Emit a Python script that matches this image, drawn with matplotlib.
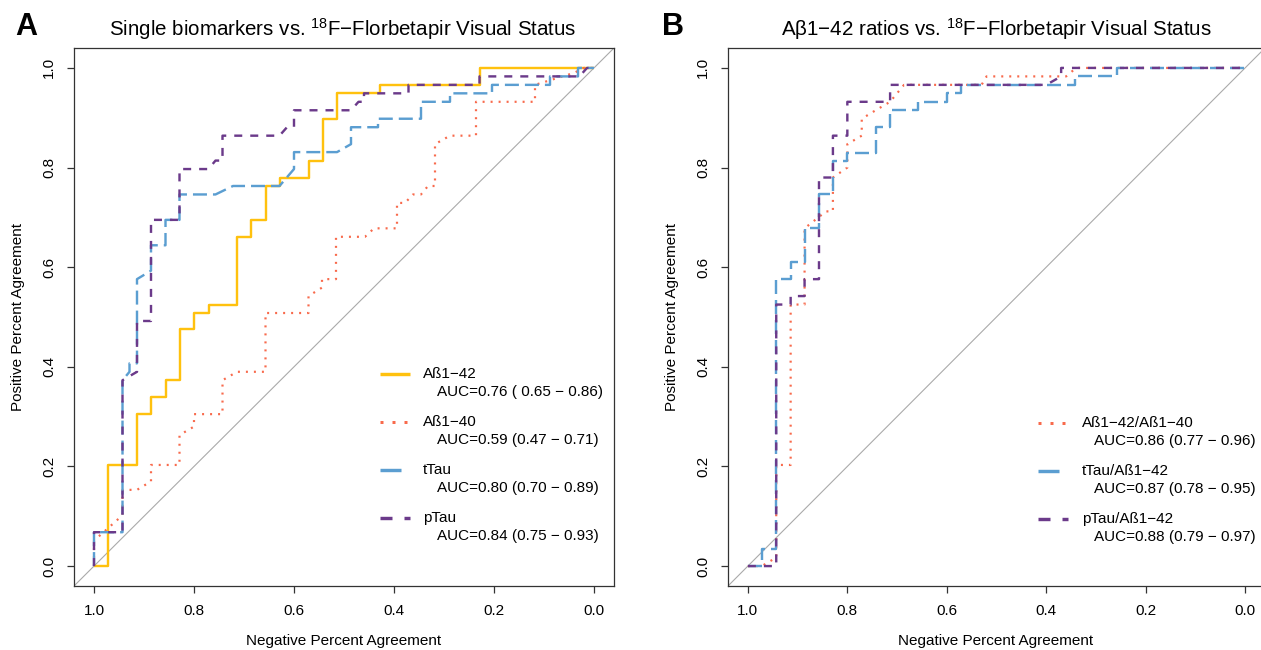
import matplotlib
matplotlib.use("Agg")
import matplotlib.pyplot as plt

plt.rcParams['font.family'] = ['Liberation Sans', 'DejaVu Sans']
plt.rcParams['mathtext.fontset'] = 'custom'
plt.rcParams['mathtext.rm'] = 'Liberation Sans'
plt.rcParams['mathtext.default'] = 'regular'
plt.rcParams['lines.scale_dashes'] = False

# ROC points as (specificity, sensitivity)
ab42_roc = [(1, 0), (0.972, 0), (0.972, 0.203), (0.914, 0.203), (0.914, 0.305), (0.886, 0.305),
            (0.886, 0.339), (0.857, 0.339), (0.857, 0.373), (0.829, 0.373), (0.829, 0.475),
            (0.8, 0.475), (0.8, 0.508), (0.771, 0.508), (0.771, 0.525), (0.714, 0.525),
            (0.714, 0.661), (0.686, 0.661), (0.686, 0.695), (0.657, 0.695), (0.657, 0.763),
            (0.629, 0.763), (0.629, 0.780), (0.571, 0.780), (0.571, 0.814), (0.543, 0.814),
            (0.543, 0.898), (0.514, 0.898), (0.514, 0.949), (0.429, 0.949), (0.429, 0.966),
            (0.229, 0.966), (0.229, 1.0), (0, 1.0)]
ab40_roc = [(1, 0), (1, 0.051), (0.943, 0.102), (0.943, 0.153), (0.914, 0.153), (0.886, 0.17),
            (0.886, 0.203), (0.829, 0.203), (0.829, 0.263), (0.8, 0.28), (0.8, 0.305),
            (0.743, 0.305), (0.743, 0.373), (0.714, 0.39), (0.657, 0.39), (0.657, 0.508),
            (0.571, 0.508), (0.571, 0.542), (0.544, 0.559), (0.544, 0.576), (0.516, 0.576),
            (0.516, 0.661), (0.458, 0.661), (0.44, 0.678), (0.394, 0.678), (0.394, 0.729),
            (0.378, 0.729), (0.362, 0.746), (0.346, 0.746), (0.332, 0.763), (0.318, 0.763),
            (0.318, 0.847), (0.288, 0.864), (0.236, 0.864), (0.236, 0.932), (0.118, 0.932),
            (0.118, 0.966), (0.04, 0.99), (0.02, 1.0), (0, 1)]
ttau_roc = [(1, 0), (1, 0.068), (0.943, 0.068), (0.943, 0.373), (0.929, 0.39), (0.929, 0.407),
            (0.914, 0.407), (0.914, 0.576), (0.886, 0.593), (0.886, 0.644), (0.857, 0.644),
            (0.857, 0.695), (0.829, 0.695), (0.829, 0.746), (0.757, 0.746), (0.722, 0.763),
            (0.629, 0.763), (0.6, 0.797), (0.6, 0.831), (0.514, 0.831), (0.486, 0.847),
            (0.486, 0.881), (0.432, 0.881), (0.432, 0.898), (0.346, 0.898), (0.346, 0.932),
            (0.288, 0.932), (0.288, 0.949), (0.204, 0.949), (0.204, 0.966), (0.088, 0.966),
            (0.088, 0.983), (0.032, 0.983), (0.032, 1.0), (0, 1)]
ptau_roc = [(1, 0), (1, 0.068), (0.943, 0.068), (0.943, 0.373), (0.914, 0.39), (0.914, 0.492),
            (0.886, 0.492), (0.886, 0.695), (0.829, 0.695), (0.829, 0.797), (0.771, 0.797),
            (0.757, 0.814), (0.743, 0.814), (0.743, 0.864), (0.629, 0.864), (0.614, 0.881),
            (0.6, 0.881), (0.6, 0.915), (0.486, 0.915), (0.471, 0.932), (0.46, 0.932),
            (0.46, 0.949), (0.371, 0.949), (0.371, 0.966), (0.229, 0.966), (0.229, 0.983),
            (0.029, 0.983), (0.014, 1.0), (0, 1)]

ratio4240_roc = [(1, 0), (0.972, 0), (0.943, 0.017), (0.943, 0.203), (0.914, 0.203),
                 (0.914, 0.525), (0.886, 0.525), (0.886, 0.678), (0.843, 0.712), (0.829, 0.712),
                 (0.829, 0.78), (0.8, 0.8), (0.8, 0.847), (0.771, 0.864), (0.771, 0.898),
                 (0.743, 0.915), (0.714, 0.932), (0.7, 0.949), (0.686, 0.966), (0.53, 0.966),
                 (0.52, 0.983), (0.36, 0.983), (0.34, 1.0), (0, 1)]
ttau42_roc = [(1, 0), (0.972, 0), (0.972, 0.034), (0.943, 0.034), (0.943, 0.576), (0.914, 0.576),
              (0.914, 0.61), (0.886, 0.61), (0.886, 0.678), (0.857, 0.678), (0.857, 0.746),
              (0.829, 0.746), (0.829, 0.814), (0.8, 0.814), (0.8, 0.83), (0.743, 0.83),
              (0.743, 0.881), (0.714, 0.881), (0.714, 0.915), (0.657, 0.915), (0.657, 0.932),
              (0.6, 0.932), (0.6, 0.949), (0.571, 0.949), (0.571, 0.966), (0.343, 0.966),
              (0.343, 0.983), (0.257, 0.983), (0.257, 1.0), (0, 1)]
ptau42_roc = [(1, 0), (0.943, 0), (0.943, 0.525), (0.914, 0.525), (0.914, 0.542), (0.886, 0.542),
              (0.886, 0.576), (0.857, 0.576), (0.857, 0.78), (0.829, 0.78), (0.829, 0.864),
              (0.8, 0.864), (0.8, 0.932), (0.714, 0.932), (0.714, 0.966), (0.4, 0.966),
              (0.37, 0.983), (0.37, 1.0), (0, 1)]

single_names = ["Aß1\u221242", "Aß1\u221240", "tTau", "pTau"]
single_auc = ["AUC=0.76 ( 0.65 \u2212 0.86)", "AUC=0.59 (0.47 \u2212 0.71)",
              "AUC=0.80 (0.70 \u2212 0.89)", "AUC=0.84 (0.75 \u2212 0.93)"]
ratio_names = ["Aß1\u221242/Aß1\u221240", "tTau/Aß1\u221242", "pTau/Aß1\u221242"]
ratio_auc = ["AUC=0.86 (0.77 \u2212 0.96)", "AUC=0.87 (0.78 \u2212 0.95)",
             "AUC=0.88 (0.79 \u2212 0.97)"]
axis_ticks = [1.0, 0.8, 0.6, 0.4, 0.2, 0.0]

GOLD = "#FFC10E"
RED = "#F86A4C"
BLUE = "#5B9ED1"
PURPLE = "#6B3A8A"

PT = 0.72  # points per pixel at 100 dpi
curve_style = {
    "gold": dict(color=GOLD, lw=2.4 * PT, ls="-"),
    "red": dict(color=RED, lw=2.2 * PT, ls=(0, (2 * PT, 6 * PT))),
    "blue": dict(color=BLUE, lw=2.4 * PT, ls=(0, (14 * PT, 6 * PT))),
    "purple": dict(color=PURPLE, lw=2.4 * PT, ls=(0, (8 * PT, 8 * PT))),
}
legend_style = {
    "gold": dict(color=GOLD, lw=3.4 * PT, ls="-"),
    "red": dict(color=RED, lw=3.0 * PT, ls=(0, (3 * PT, 9 * PT))),
    "blue": dict(color=BLUE, lw=3.4 * PT, ls=(0, (21 * PT, 9 * PT))),
    "purple": dict(color=PURPLE, lw=3.4 * PT, ls=(0, (12 * PT, 12 * PT))),
}

W, H = 1261, 650
fig = plt.figure(figsize=(W / 100, H / 100), dpi=100)


def fx(x):
    return x / W


def fy(y):
    return 1 - y / H


def make_axes(left_px, width_px):
    ax = fig.add_axes([fx(left_px), fy(586), width_px / W, 538 / H])
    ax.set_xlim(1.04, -0.04)
    ax.set_ylim(-0.04, 1.04)
    ax.set_xticks(axis_ticks)
    ax.set_xticklabels([f"{t:.1f}" for t in axis_ticks])
    ax.set_yticks(axis_ticks)
    ax.set_yticklabels([f"{t:.1f}" for t in axis_ticks], rotation=90, va="center")
    ax.tick_params(direction="out", length=5, width=0.9, color="#333333",
                   labelsize=11, pad=8)
    for s in ax.spines.values():
        s.set_color("#333333")
        s.set_linewidth(0.9)
    ax.plot([1.04, -0.04], [-0.04, 1.04], color="#aaaaaa", lw=0.8, zorder=1)
    return ax


def draw_roc(ax, roc, style):
    xs = [p[0] for p in roc]
    ys = [p[1] for p in roc]
    ax.plot(xs, ys, solid_capstyle="butt", dash_capstyle="butt", zorder=3, **style)


def draw_legend(ax, left_px, width_px, entries, x0, x1, xlab, xauc, ytop):
    for i, (name, auc, key) in enumerate(entries):
        y = ytop + 48 * i
        ya = 1 - (y - 48) / 538
        yb = 1 - (y + 18 - 48) / 538
        ax.plot([(x0 - left_px) / width_px, (x1 - left_px) / width_px], [ya, ya],
                transform=ax.transAxes, clip_on=False, dash_capstyle="butt",
                solid_capstyle="butt", **legend_style[key])
        ax.text((xlab - left_px) / width_px, ya, name, transform=ax.transAxes,
                fontsize=11, va="center", ha="left")
        ax.text((xauc - left_px) / width_px, yb, auc, transform=ax.transAxes,
                fontsize=11, va="center", ha="left")


# Panel A: single biomarkers
axA = make_axes(74, 540)
draw_roc(axA, ab42_roc, curve_style["gold"])
draw_roc(axA, ab40_roc, curve_style["red"])
draw_roc(axA, ttau_roc, curve_style["blue"])
draw_roc(axA, ptau_roc, curve_style["purple"])
draw_legend(axA, 74, 540,
            list(zip(single_names, single_auc, ["gold", "red", "blue", "purple"])),
            380, 410, 423, 437, 374)

# Panel B: ratios
axB = make_axes(728, 537)
draw_roc(axB, ratio4240_roc, curve_style["red"])
draw_roc(axB, ttau42_roc, curve_style["blue"])
draw_roc(axB, ptau42_roc, curve_style["purple"])
draw_legend(axB, 728, 537,
            list(zip(ratio_names, ratio_auc, ["red", "blue", "purple"])),
            1038, 1068, 1082, 1094, 423)

fig.text(fx(343), fy(29), "Single biomarkers vs. $^{18}$F\u2212Florbetapir Visual Status",
         ha="center", va="center", fontsize=14.8)
fig.text(fx(996), fy(29), "Aβ1\u221242 ratios vs. $^{18}$F\u2212Florbetapir Visual Status",
         ha="center", va="center", fontsize=14.8)
fig.text(fx(26), fy(27), "A", ha="center", va="center", fontsize=22, fontweight="bold")
fig.text(fx(673), fy(27), "B", ha="center", va="center", fontsize=22, fontweight="bold")
for cx in (344, 996):
    fig.text(fx(cx), fy(641), "Negative Percent Agreement", ha="center", va="center", fontsize=11)
for cx in (18, 672):
    fig.text(fx(cx), fy(317), "Positive Percent Agreement", ha="center", va="center",
             fontsize=11, rotation=90)

fig.savefig("out.png", dpi=100, facecolor="white")
